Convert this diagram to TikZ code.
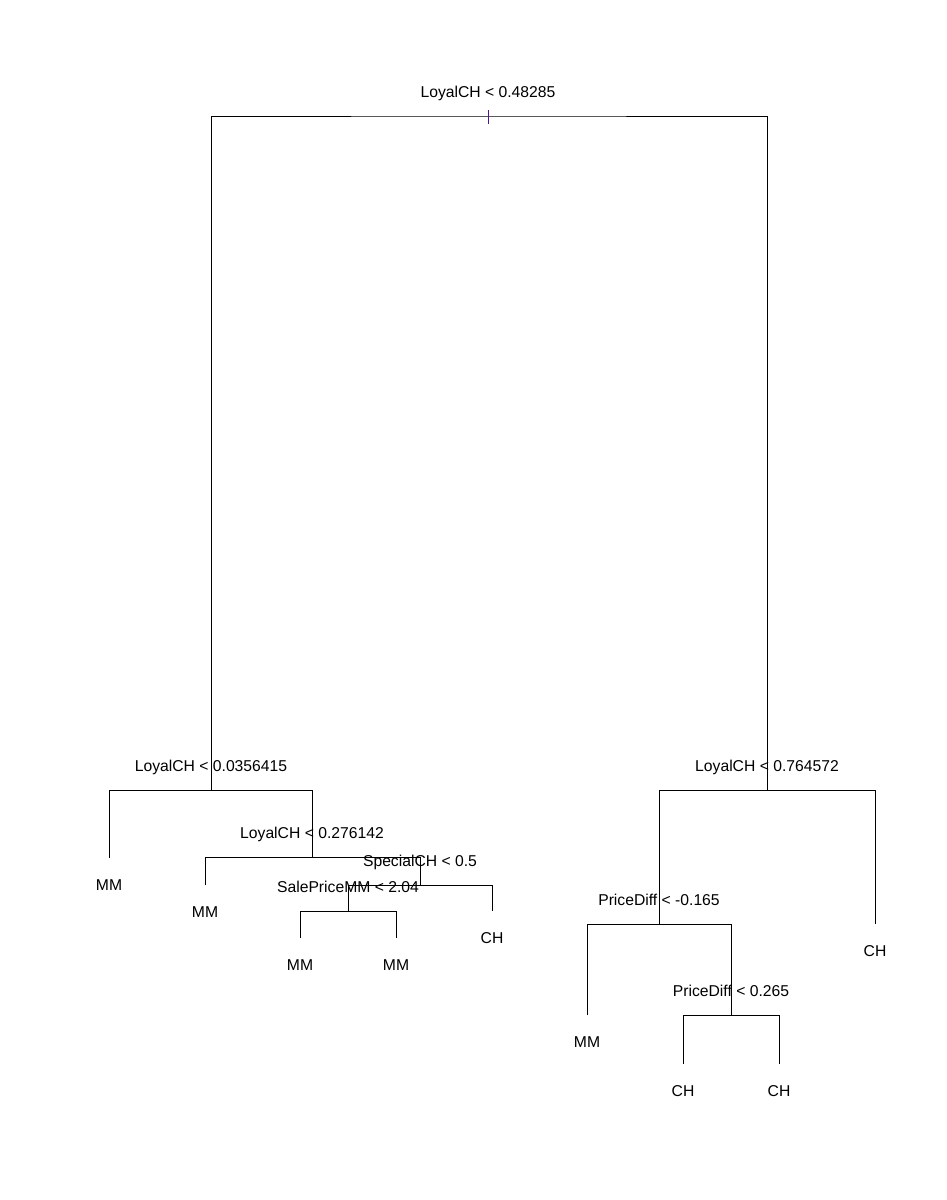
\documentclass[tikz,border=0pt]{standalone}
\usepackage{fontspec}
\setmainfont{Liberation Sans}
\definecolor{tickcol}{RGB}{80,20,150}

\begin{document}
\begin{tikzpicture}[x=1pt, y=-1pt, line width=1pt,
    every node/.style={font=\fontsize{15.7}{18}\selectfont, inner sep=0pt},
    splittext/.style={anchor=base, yshift=18.5pt},
    leaftext/.style={anchor=base, yshift=-32pt}]
        \useasboundingbox (0,0) rectangle (946,1200);
        % split points
        \coordinate (root) at (488,116);
        \coordinate (s1) at (211,790);
        \coordinate (s2) at (312,857);
        \coordinate (s3) at (420,885);
        \coordinate (s4) at (348,911);
        \coordinate (s5) at (767,790);
        \coordinate (s6) at (659,924);
        \coordinate (s7) at (731,1015);
        % leaf ends
        \coordinate (t1) at (109,858);
        \coordinate (t2) at (205,885);
        \coordinate (t3) at (300,938);
        \coordinate (t4) at (396,938);
        \coordinate (t5) at (492,911);
        \coordinate (t6) at (587,1015);
        \coordinate (t7) at (683,1064);
        \coordinate (t8) at (779,1064);
        \coordinate (t9) at (875,924);
        % branches
        \draw (s1) |- (root) -| (s5);
        \draw (t1) |- (s1) -| (s2);
        \draw (t2) |- (s2) -| (s3);
        \draw (s4) |- (s3) -| (t5);
        \draw (t3) |- (s4) -| (t4);
        \draw (s6) |- (s5) -| (t9);
        \draw (t6) |- (s6) -| (s7);
        \draw (t7) |- (s7) -| (t8);
        \draw[tickcol] ([yshift=6pt]root) -- ([yshift=-8pt]root);
        % split labels
        \node[splittext] (lroot) at (root) {LoyalCH < 0.48285};
        \node[splittext] (l1) at (s1) {LoyalCH < 0.0356415};
        \node[splittext] (l2) at (s2) {LoyalCH < 0.276142};
        \node[splittext] (l3) at (s3) {SpecialCH < 0.5};
        \node[splittext] (l4) at (s4) {SalePriceMM < 2.04};
        \node[splittext] (l5) at (s5) {LoyalCH < 0.764572};
        \node[splittext] (l6) at (s6) {PriceDiff < -0.165};
        \node[splittext] (l7) at (s7) {PriceDiff < 0.265};
        % leaf labels
        \node[leaftext] (m1) at (t1) {MM};
        \node[leaftext] (m2) at (t2) {MM};
        \node[leaftext] (m3) at (t3) {MM};
        \node[leaftext] (m4) at (t4) {MM};
        \node[leaftext] (m5) at (t5) {CH};
        \node[leaftext] (m6) at (t6) {MM};
        \node[leaftext] (m7) at (t7) {CH};
        \node[leaftext] (m8) at (t8) {CH};
        \node[leaftext] (m9) at (t9) {CH};
\end{tikzpicture}
\end{document}
